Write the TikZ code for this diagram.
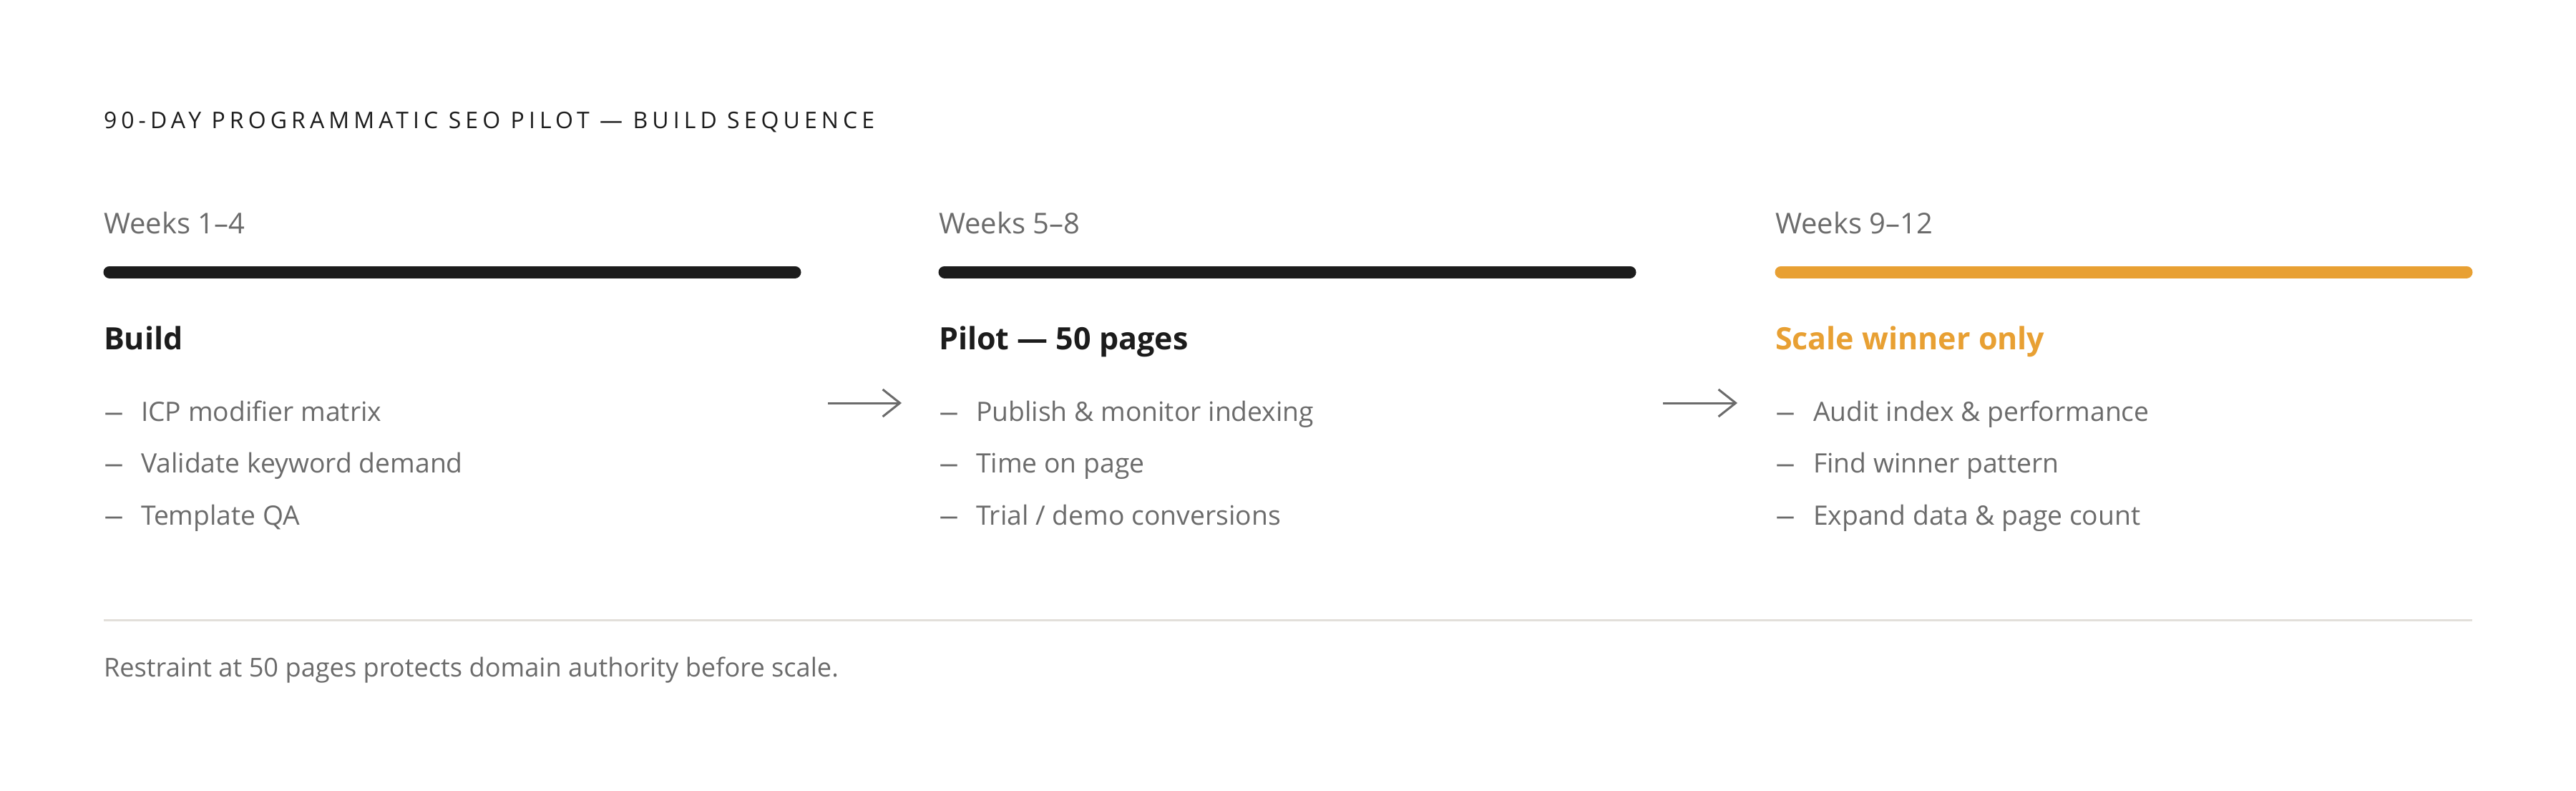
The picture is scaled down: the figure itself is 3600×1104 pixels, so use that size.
\documentclass[tikz,border=0pt]{standalone}
\usepackage{fontspec}
\setmainfont{Open Sans}
\newfontfamily\spacedfont[LetterSpace=19]{Open Sans}
\usetikzlibrary{arrows.meta}
\definecolor{ink}{HTML}{1C1C1C}
\definecolor{muted}{HTML}{6B6B6B}
\definecolor{accent}{HTML}{E8A033}
\definecolor{rulecol}{HTML}{E2DFDA}
\newcommand{\itemdash}{\scalebox{1.5}[1]{–}}
\begin{document}
\begin{tikzpicture}[x=1pt,y=-1pt,
  txt/.style={anchor=base west,inner sep=0pt,outer sep=0pt},
  titlestyle/.style={txt,text=ink,font=\spacedfont\fontsize{32}{38}\selectfont},
  weekstyle/.style={txt,text=muted,font=\fontsize{40}{46}\selectfont},
  headstyle/.style={txt,text=ink,font=\bfseries\fontsize{43}{54}\selectfont},
  itemstyle/.style={txt,text=muted,font=\fontsize{37.3}{44}\selectfont},
  barstyle/.style={line width=17pt,line cap=round,draw=ink},
  flow/.style={draw=muted,line width=3pt,-{Straight Barb[length=24pt,width=38pt,line width=3pt]}}
]
\useasboundingbox[fill=white] (0,0) rectangle (3600,1104);

\node[titlestyle] (title) at (145,179) {90-DAY PROGRAMMATIC SEO PILOT — BUILD SEQUENCE};

% columns
\foreach \i/\x/\wk in {1/145/{Weeks 1–4},2/1312/{Weeks 5–8},3/2481/{Weeks 9–12}}{
  \node[weekstyle] (w\i) at (\x,326) {\wk};
  \coordinate (bs\i) at ({\x+8},380);
  \coordinate (be\i) at ({\x+966},380);
}
\draw[barstyle] (bs1) -- (be1);
\draw[barstyle] (bs2) -- (be2);
\draw[barstyle,draw=accent] (bs3) -- (be3);

\node[headstyle] (h1) at (145,488) {Build};
\node[headstyle] (h2) at (1312,488) {Pilot — 50 pages};
\node[headstyle,text=accent] (h3) at (2481,488) {Scale winner only};

\foreach \i/\x in {1/145,2/1312,3/2481}{
  \foreach \j/\y in {1/588,2/660,3/733}{
    \node[itemstyle] (d\i\j) at (\x,\y) {\itemdash};
  }
}
\node[itemstyle] (t11) at (197,588) {ICP modifier matrix};
\node[itemstyle] (t12) at (197,660) {Validate keyword demand};
\node[itemstyle] (t13) at (197,733) {Template QA};
\node[itemstyle] (t21) at (1364,588) {Publish \& monitor indexing};
\node[itemstyle] (t22) at (1364,660) {Time on page};
\node[itemstyle] (t23) at (1364,733) {Trial / demo conversions};
\node[itemstyle] (t31) at (2534,588) {Audit index \& performance};
\node[itemstyle] (t32) at (2534,660) {Find winner pattern};
\node[itemstyle] (t33) at (2534,733) {Expand data \& page count};

% arrows
\coordinate (a1s) at (1157,563);
\coordinate (a1e) at (1260,563);
\coordinate (a2s) at (2324,563);
\coordinate (a2e) at (2428,563);
\draw[flow] (a1s) -- (a1e);
\draw[flow] (a2s) -- (a2e);

% rule and footer
\coordinate (rs) at (145,866);
\coordinate (re) at (3455,866);
\draw[rulecol,line width=3pt] (rs) -- (re);
\node[txt,text=muted,font=\fontsize{36.2}{44}\selectfont] (foot) at (145,945) {Restraint at 50 pages protects domain authority before scale.};
\end{tikzpicture}
\end{document}
